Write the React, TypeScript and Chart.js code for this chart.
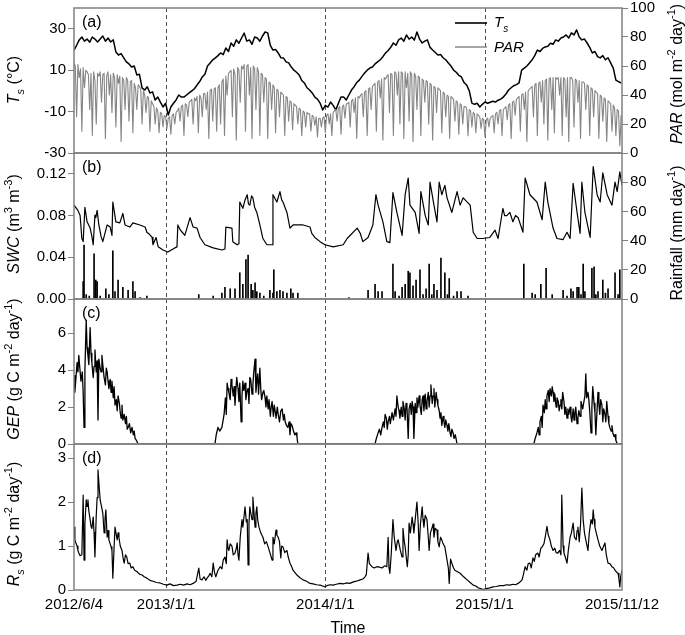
import React, { useEffect, useRef } from 'react';
import { Chart, registerables } from 'chart.js';

Chart.register(...registerables);

// ---------- data ----------
const TS_STEP = 6; // Ts sampled every 6 days from 2012/6/4
const PAR_STEP = 3; // PAR sampled every 3 days from 2012/6/4
const X_MAX = 1256; // days from 2012/6/4 to 2015/11/12
const xTickDays = [0, 211, 576, 941, 1256];
const xTickLabels = ['2012/6/4', '2013/1/1', '2014/1/1', '2015/1/1', '2015/11/12'];
const yearLineDays = [211, 576, 941];

const tsTicks = [-30, -10, 10, 30];
const parTicks = [0, 20, 40, 60, 80, 100];
const swcTicks = [0, 0.04, 0.08, 0.12];
const rainTicks = [0, 20, 40, 60, 80];
const gepTicks = [0, 2, 4, 6];
const rsTicks = [0, 1, 2, 3];

const tsVal = [
  19.7, 22, 24.6, 26, 24, 25, 23.5, 26, 25, 23.6,
  25, 26.5, 24, 25.5, 23.6, 24.6, 18.8, 17.3, 18, 15.9,
  14, 13, 11.5, 12, 7.7, 8, 1.4, 0.4, 2, -1,
  -0.5, -4.4, -3, -5.4, -7.8, -6, -11.7, -7.8, -6, -4.4,
  -2, -3, -3, -2, -1, 0, 1, 2.8, 4.5, 6.7,
  8, 12, 13.5, 15, 15.9, 17, 18.3, 17.5, 20.7, 19,
  23.1, 21.5, 24.6, 23, 25.5, 27.9, 24, 24.6, 22.5, 26,
  25.5, 24, 26.5, 28.4, 28, 22, 19.7, 20, 18.3, 16,
  15.9, 14, 13.5, 11.5, 10, 9, 7.7, 5, 3.8, 1.5,
  0.4, -1, -3, -4, -5.9, -9.2, -7, -7.8, -5.4, -7,
  -9.2, -6, -3, -3, -4.4, -2, 0.4, 2, 4, 5.2,
  7, 8.6, 10, 11, 11.5, 13, 14, 15, 16.5, 18.3,
  19.5, 21, 23.1, 22, 24.6, 25.5, 24, 27, 25, 26,
  24.5, 28.4, 25, 23.1, 24, 24.6, 21, 19.7, 18.5, 17.3,
  17.5, 16, 15, 13.5, 12, 10, 9, 7.5, 6.7, 4,
  2.8, 0, -5.9, -6.5, -6, -7.8, -6.5, -5.4, -6, -5.5,
  -5, -5.4, -4.5, -4, -3, -1.5, 0.4, 1.5, 2.5, 3,
  3.8, 10, 11, 12, 13.5, 15, 17, 19.7, 19, 20.5,
  21.2, 21.5, 23, 22.5, 24.6, 24, 25.5, 26, 27, 25.5,
  28, 27, 29.4, 26, 24.6, 25, 23.1, 21, 18.3, 19,
  16.5, 15.9, 17, 15, 16, 13.5, 11, 5.2, 4.5, 3.8,
];

const parVal = [
  62, 60, 25, 61, 52, 58, 15, 59, 45, 57,
  56, 54, 30, 55, 12, 56, 50, 20, 55, 53,
  56, 35, 54, 55, 10, 53, 56, 40, 54, 28,
  55, 52, 18, 54, 48, 53, 8, 52, 50, 30,
  52, 50, 22, 49, 50, 14, 48, 45, 30, 47,
  46, 44, 20, 43, 40, 28, 39, 38, 15, 36,
  34, 32, 20, 31, 29, 14, 28, 27, 18, 26,
  25, 17, 24, 25, 13, 26, 27, 20, 28, 29,
  31, 22, 32, 33, 12, 34, 33, 25, 35, 36,
  37, 20, 38, 36, 39, 14, 40, 38, 25, 41,
  41, 30, 42, 10, 43, 44, 22, 44, 45, 15,
  45, 47, 20, 49, 51, 12, 53, 40, 55, 56,
  57, 25, 58, 54, 9, 59, 57, 35, 60, 58,
  61, 15, 60, 61, 40, 59, 10, 60, 58, 30,
  59, 56, 12, 55, 54, 35, 52, 51, 10, 49,
  48, 30, 47, 45, 14, 44, 43, 25, 42, 41,
  40, 12, 39, 38, 22, 36, 35, 16, 34, 33,
  32, 20, 31, 30, 12, 29, 28, 18, 28, 27,
  27, 15, 26, 25, 19, 25, 11, 24, 24, 18,
  24, 25, 14, 26, 27, 20, 27, 12, 28, 29,
  30, 22, 31, 32, 13, 32, 33, 24, 34, 34,
  35, 18, 36, 37, 28, 38, 10, 39, 38, 40,
  41, 25, 42, 43, 12, 44, 45, 30, 46, 47,
  48, 15, 49, 50, 38, 51, 9, 52, 51, 53,
  54, 28, 55, 54, 12, 56, 55, 40, 56, 20,
  56, 55, 10, 56, 45, 55, 22, 56, 54, 8,
  55, 53, 30, 53, 52, 12, 51, 50, 35, 50,
  49, 20, 48, 47, 9, 46, 45, 28, 45, 44,
  43, 14, 42, 41, 25, 40, 39, 10, 39, 38,
  37, 22, 36, 35, 13, 34, 33, 20, 32, 32,
  31, 12, 30, 29, 18, 28, 27, 14, 27, 26,
  25, 17, 24, 23, 11, 23, 24, 18, 24, 25,
  26, 14, 27, 28, 20, 29, 30, 12, 30, 31,
  32, 23, 33, 34, 10, 35, 36, 26, 37, 38,
  39, 15, 40, 41, 30, 42, 8, 43, 44, 45,
  46, 25, 47, 48, 12, 48, 49, 35, 50, 20,
  50, 51, 9, 51, 52, 30, 52, 14, 52, 51,
  52, 40, 52, 12, 52, 51, 25, 52, 8, 52,
  52, 50, 18, 51, 50, 35, 50, 10, 49, 49,
  48, 30, 47, 46, 12, 45, 44, 25, 43, 42,
  41, 10, 40, 39, 22, 38, 37, 8, 36, 35,
  34, 15, 33, 31, 12, 30, 29, 5, 26,
];

// [day, SWC]
const swcPoints = [
  [0, 0.09], [9, 0.085], [14, 0.08], [18, 0.058], [21, 0.055], [25, 0.088], [30, 0.074], [37, 0.068],
  [41, 0.06], [44, 0.052], [48, 0.0805], [50, 0.078], [53, 0.085], [57, 0.071], [62, 0.06], [66, 0.055],
  [76, 0.071], [83, 0.069], [87, 0.061], [89, 0.093], [96, 0.074], [105, 0.073], [112, 0.082], [117, 0.071],
  [128, 0.069], [135, 0.073], [151, 0.071], [163, 0.069], [167, 0.064], [173, 0.062], [179, 0.059], [181, 0.052],
  [188, 0.059], [193, 0.05], [204, 0.047], [215, 0.045], [231, 0.049], [236, 0.05], [238, 0.071], [244, 0.066],
  [248, 0.064], [254, 0.061], [266, 0.078], [273, 0.069], [282, 0.068], [289, 0.059], [300, 0.052], [319, 0.049],
  [339, 0.047], [346, 0.048], [348, 0.069], [362, 0.068], [364, 0.055], [374, 0.052], [378, 0.053], [380, 0.093],
  [387, 0.087], [392, 0.095], [397, 0.1], [400, 0.091], [403, 0.09], [407, 0.099], [410, 0.097], [414, 0.088],
  [419, 0.083], [426, 0.071], [433, 0.058], [442, 0.052], [454, 0.052], [456, 0.1], [465, 0.093], [472, 0.103],
  [476, 0.095], [479, 0.093], [488, 0.083], [495, 0.068], [502, 0.071], [525, 0.071], [541, 0.069], [545, 0.063],
  [552, 0.059], [564, 0.055], [575, 0.052], [594, 0.05], [617, 0.052], [626, 0.058], [649, 0.068], [656, 0.063],
  [662, 0.055], [674, 0.059], [685, 0.071], [692, 0.1], [697, 0.09], [708, 0.074], [717, 0.055], [724, 0.054],
  [731, 0.102], [740, 0.083], [752, 0.061], [759, 0.1], [766, 0.116], [770, 0.09], [782, 0.083], [791, 0.063],
  [795, 0.103], [805, 0.08], [812, 0.071], [816, 0.112], [825, 0.09], [832, 0.074], [837, 0.112], [843, 0.1],
  [850, 0.109], [855, 0.097], [866, 0.083], [878, 0.103], [885, 0.09], [892, 0.097], [908, 0.09], [915, 0.064],
  [924, 0.058], [937, 0.058], [953, 0.059], [965, 0.066], [972, 0.058], [983, 0.087], [987, 0.08], [992, 0.08],
  [999, 0.083], [1006, 0.074], [1012, 0.08], [1018, 0.078], [1029, 0.064], [1034, 0.116], [1045, 0.1], [1061, 0.093],
  [1073, 0.076], [1080, 0.112], [1086, 0.093], [1098, 0.068], [1107, 0.058], [1121, 0.057], [1130, 0.064], [1137, 0.058],
  [1144, 0.111], [1153, 0.083], [1160, 0.063], [1164, 0.112], [1171, 0.083], [1183, 0.059], [1190, 0.127], [1199, 0.1],
  [1206, 0.093], [1212, 0.121], [1222, 0.1], [1233, 0.09], [1240, 0.112], [1245, 0.103], [1251, 0.122], [1256, 0.109],
];

// [day, rainfall mm]
const rainPoints = [
  [21, 12], [23, 37], [28, 3], [35, 2], [46, 31], [50, 13], [53, 12], [60, 2], [73, 7], [80, 3], [89, 33], [94, 5],
  [101, 13], [112, 8], [124, 6], [135, 12], [140, 5], [152, 1], [167, 2], [286, 3], [319, 2], [339, 4], [346, 8],
  [358, 7], [369, 7], [380, 18], [387, 10], [394, 27], [399, 30], [406, 10], [410, 6], [415, 11], [419, 5], [426, 4],
  [435, 2], [449, 6], [456, 4], [458, 20], [465, 5], [472, 6], [479, 5], [488, 4], [497, 7], [502, 4], [513, 4],
  [630, 1], [674, 6], [690, 10], [697, 5], [706, 5], [731, 24], [736, 5], [745, 2], [752, 8], [759, 10], [766, 19],
  [770, 18], [777, 9], [784, 13], [793, 20], [800, 3], [807, 7], [814, 24], [820, 3], [825, 10], [832, 6], [841, 28],
  [850, 18], [856, 3], [860, 14], [870, 2], [878, 5], [887, 5], [903, 2], [1031, 24], [1050, 4], [1057, 3], [1070, 10],
  [1082, 21], [1096, 3], [1121, 6], [1130, 2], [1139, 7], [1144, 5], [1153, 8], [1157, 8], [1162, 3], [1167, 24],
  [1171, 5], [1187, 21], [1192, 22], [1196, 3], [1201, 5], [1212, 13], [1218, 4], [1224, 7], [1240, 18], [1247, 3],
  [1251, 20],
];

// [day, GEP]
const gepPoints = [
  [0, 3.7], [2, 2.8], [7, 4.4], [9, 3.9], [11, 4.8], [13, 4.2], [16, 3.4], [19, 3.9], [21, 2.8], [23, 0.9], [25, 4.0],
  [28, 6.7], [30, 5.2], [32, 4.8], [34, 4.3], [37, 6.3], [39, 4.9], [41, 4.4], [44, 3.6], [46, 4.2], [48, 5.1], [51, 3.9],
  [53, 4.5], [55, 1.3], [57, 4.6], [60, 4.1], [62, 3.9], [64, 4.8], [66, 4.3], [69, 3.6], [72, 3.2], [74, 4.1], [76, 3.9],
  [78, 3.4], [80, 3.0], [83, 3.5], [85, 2.8], [87, 3.4], [90, 2.5], [92, 3.1], [94, 2.1], [97, 2.4], [99, 1.8], [101, 2.6],
  [104, 2.2], [106, 1.7], [108, 1.4], [110, 2.1], [112, 1.3], [115, 1.6], [118, 1.1], [120, 1.5], [122, 0.8], [124, 0.9],
  [127, 1.1], [130, 0.6], [133, 0.9], [136, 0.5], [138, 0.7], [140, 0.3], [143, 0.2], [147, 0],
  [323, 0], [326, 0.5], [330, 0.9], [334, 0.7], [339, 0.9], [344, 1.6], [347, 2.5], [349, 1.6], [351, 3.3], [353, 3.0],
  [355, 2.8], [358, 2.4], [360, 3.5], [362, 3.2], [365, 2.6], [367, 3.1], [369, 2.1], [371, 2.9], [373, 3.6], [376, 3.0],
  [378, 2.3], [380, 3.3], [383, 1.2], [385, 2.6], [387, 3.4], [389, 2.9], [392, 3.3], [394, 2.4], [396, 2.8], [399, 3.0],
  [401, 2.2], [403, 3.6], [405, 3.5], [408, 2.7], [410, 3.2], [412, 3.9], [415, 4.6], [417, 2.8], [419, 3.4], [421, 3.8],
  [423, 2.7], [426, 4.1], [428, 3.0], [430, 2.4], [433, 2.8], [435, 2.9], [438, 2.5], [440, 2.0], [442, 2.6], [445, 1.9],
  [447, 2.4], [450, 1.5], [452, 2.0], [454, 2.3], [457, 1.5], [459, 2.1], [461, 1.8], [463, 1.4], [466, 2.0], [468, 1.6],
  [471, 1.2], [474, 1.8], [477, 1.9], [480, 1.3], [482, 1.6], [484, 1.2], [487, 1.0], [490, 0.9], [493, 1.2], [495, 0.5],
  [497, 1.1], [500, 1.0], [503, 0.7], [506, 0.5], [509, 0.6], [511, 0.4], [513, 0],
  [690, 0], [693, 0.3], [697, 0.6], [700, 0.8], [703, 0.5], [706, 0.9], [709, 1.2], [711, 0.9], [713, 1.6], [716, 1.4],
  [718, 0.8], [720, 1.2], [723, 1.5], [725, 1.1], [729, 1.7], [732, 1.3], [736, 1.9], [738, 1.5], [740, 2.6], [743, 2.0],
  [745, 1.8], [747, 1.4], [750, 2.0], [752, 1.5], [754, 2.3], [757, 1.9], [759, 1.3], [761, 2.2], [763, 2.1], [766, 0.3],
  [768, 1.9], [771, 2.2], [773, 1.6], [775, 2.3], [777, 2.0], [779, 0.3], [782, 2.2], [784, 1.7], [786, 2.5], [788, 2.0],
  [791, 2.6], [793, 2.1], [796, 1.6], [798, 2.4], [800, 2.6], [802, 1.8], [805, 2.7], [807, 1.9], [809, 2.3], [812, 2.8],
  [814, 2.0], [816, 2.6], [818, 3.2], [821, 2.2], [823, 2.6], [825, 3.0], [827, 2.0], [830, 2.8], [832, 2.4], [834, 2.1],
  [837, 1.8], [839, 1.4], [841, 1.7], [843, 1.0], [846, 1.5], [848, 1.2], [850, 0.9], [852, 1.3], [855, 1.0], [857, 0.7],
  [859, 1.1], [862, 0.6], [864, 0.4], [866, 0.8], [869, 0.6], [871, 0.3], [874, 0.5], [878, 0],
  [1054, 0], [1057, 0.3], [1061, 0.6], [1064, 0.9], [1066, 0.5], [1068, 1.2], [1071, 1.5], [1073, 0.9], [1075, 2.1],
  [1078, 1.7], [1080, 2.4], [1082, 1.9], [1084, 2.6], [1087, 2.9], [1089, 2.3], [1091, 3.0], [1094, 2.6], [1096, 3.1],
  [1098, 2.8], [1100, 2.3], [1102, 2.7], [1105, 2.0], [1107, 2.5], [1110, 2.3], [1112, 1.8], [1114, 2.1], [1116, 2.4],
  [1118, 1.9], [1120, 2.8], [1123, 2.3], [1125, 1.6], [1127, 2.0], [1130, 1.4], [1132, 1.9], [1134, 1.6], [1137, 2.0],
  [1139, 1.5], [1141, 1.2], [1144, 1.9], [1146, 1.3], [1148, 1.7], [1150, 2.0], [1153, 1.1], [1155, 1.4], [1157, 1.8],
  [1160, 1.5], [1162, 2.3], [1164, 2.1], [1166, 1.9], [1168, 2.2], [1171, 2.6], [1173, 3.8], [1175, 2.5], [1178, 2.8],
  [1180, 2.4], [1182, 1.8], [1185, 0.6], [1187, 2.0], [1189, 3.1], [1192, 2.2], [1194, 1.7], [1196, 0.5], [1199, 1.9],
  [1201, 2.8], [1203, 2.2], [1205, 1.6], [1207, 2.4], [1210, 2.1], [1212, 1.2], [1214, 1.9], [1217, 1.6], [1219, 1.2],
  [1221, 2.3], [1224, 1.5], [1226, 1.1], [1228, 0.9], [1231, 0.7], [1233, 1.0], [1235, 0.6], [1238, 0.4], [1240, 0.5],
  [1242, 0.2], [1245, 0], [1256, 0],
];

// [day, Rs]
const rsPoints = [
  [0, 1.43], [2, 1.14], [5, 1.05], [7, 1.0], [9, 0.9], [11, 0.84], [14, 0.78], [18, 0.8], [21, 2.16], [23, 0.68],
  [25, 1.5], [28, 2.05], [30, 1.9], [32, 2.05], [34, 1.8], [37, 1.6], [39, 1.45], [41, 1.4], [44, 1.66], [46, 1.3],
  [48, 0.75], [51, 1.7], [53, 2.1], [55, 2.73], [58, 2.3], [60, 2.05], [63, 1.9], [66, 1.75], [69, 1.3], [71, 1.6],
  [73, 1.82], [76, 1.2], [78, 1.35], [80, 1.14], [83, 1.05], [85, 0.98], [87, 0.9], [89, 0.27], [92, 1.0], [94, 1.43],
  [97, 1.25], [99, 1.14], [101, 1.3], [103, 1.2], [106, 1.0], [110, 0.9], [113, 0.7], [115, 0.61], [118, 0.8], [121, 0.75],
  [124, 0.6], [128, 0.61], [131, 0.5], [135, 0.53], [139, 0.45], [144, 0.42], [150, 0.36], [156, 0.34], [161, 0.3],
  [167, 0.27], [174, 0.22], [181, 0.2], [189, 0.17], [197, 0.16], [205, 0.13], [213, 0.11], [220, 0.14], [228, 0.1],
  [236, 0.11], [244, 0.13], [251, 0.11], [259, 0.14], [266, 0.12], [273, 0.15], [280, 0.2], [286, 0.5], [289, 0.25],
  [293, 0.23], [298, 0.3], [302, 0.22], [305, 0.27], [309, 0.32], [312, 0.38], [316, 0.3], [319, 0.61], [322, 0.4],
  [325, 0.3], [330, 0.45], [335, 0.53], [339, 0.48], [342, 0.68], [346, 0.75], [349, 0.6], [351, 1.14], [353, 0.95],
  [355, 0.9], [358, 1.05], [362, 1.0], [365, 0.8], [369, 0.84], [372, 0.95], [374, 1.07], [376, 0.8], [378, 0.68],
  [381, 1.2], [385, 1.6], [387, 1.43], [390, 1.7], [392, 1.89], [395, 1.55], [397, 1.6], [399, 0.57], [401, 1.5],
  [403, 1.89], [406, 1.7], [408, 1.6], [410, 2.11], [413, 1.7], [415, 1.43], [417, 1.75], [419, 1.89], [421, 1.6],
  [424, 1.43], [428, 1.3], [433, 1.2], [437, 1.05], [441, 1.1], [445, 0.98], [449, 0.85], [452, 0.75], [454, 0.68],
  [456, 1.2], [459, 1.05], [463, 1.36], [465, 1.25], [468, 1.2], [471, 1.1], [474, 0.73], [476, 1.0], [479, 0.98],
  [483, 0.85], [488, 0.9], [491, 0.75], [495, 0.61], [498, 0.55], [502, 0.45], [506, 0.4], [511, 0.34], [518, 0.28],
  [525, 0.23], [533, 0.2], [541, 0.15], [548, 0.14], [556, 0.12], [564, 0.11], [570, 0.09], [575, 0.07], [580, 0.1],
  [587, 0.12], [594, 0.11], [601, 0.13], [610, 0.15], [617, 0.14], [624, 0.16], [632, 0.15], [639, 0.18], [647, 0.2],
  [656, 0.23], [662, 0.25], [667, 0.3], [670, 0.35], [674, 0.84], [677, 0.6], [683, 0.53], [688, 0.5], [694, 0.53],
  [700, 0.52], [706, 0.5], [712, 0.55], [717, 0.53], [720, 1.2], [722, 0.5], [724, 0.38], [727, 0.8], [731, 1.6],
  [734, 1.2], [738, 0.9], [741, 1.1], [743, 1.14], [748, 0.9], [752, 0.75], [754, 1.4], [757, 1.1], [759, 0.98],
  [762, 0.7], [764, 0.53], [766, 0.8], [768, 1.52], [771, 1.3], [775, 1.66], [777, 1.5], [779, 1.3], [782, 1.6],
  [786, 2.0], [789, 1.5], [791, 0.9], [794, 1.5], [798, 1.89], [800, 1.6], [802, 1.43], [805, 1.7], [809, 1.6],
  [812, 1.2], [814, 0.9], [817, 1.3], [821, 1.43], [823, 1.5], [825, 1.2], [828, 1.4], [832, 1.36], [834, 1.1],
  [837, 0.98], [840, 1.2], [843, 1.14], [846, 1.05], [850, 0.98], [853, 0.8], [855, 0.68], [858, 0.5], [860, 0.15],
  [863, 0.7], [866, 0.61], [870, 0.5], [873, 0.45], [878, 0.42], [885, 0.38], [893, 0.3], [901, 0.23], [908, 0.17],
  [915, 0.11], [921, 0.09], [926, 0.05], [932, 0.03], [937, 0.01], [945, 0.03], [953, 0.05], [960, 0.07], [968, 0.08],
  [976, 0.1], [984, 0.1], [992, 0.12], [999, 0.11], [1006, 0.13], [1012, 0.12], [1018, 0.15], [1022, 0.18],
  [1027, 0.23], [1030, 0.35], [1034, 0.53], [1038, 0.45], [1041, 0.6], [1045, 0.61], [1048, 0.5], [1052, 0.73],
  [1055, 0.65], [1058, 0.8], [1063, 0.84], [1066, 0.75], [1070, 0.95], [1073, 0.98], [1077, 1.05], [1080, 1.2],
  [1084, 1.45], [1087, 1.25], [1091, 1.14], [1094, 1.0], [1098, 0.9], [1102, 0.95], [1105, 0.85], [1109, 0.84],
  [1113, 0.9], [1116, 0.8], [1118, 2.16], [1121, 1.0], [1123, 0.84], [1126, 0.75], [1130, 0.61], [1133, 0.9],
  [1137, 1.2], [1140, 1.3], [1144, 1.52], [1147, 1.2], [1151, 1.14], [1153, 1.35], [1155, 1.43], [1158, 1.1],
  [1161, 1.5], [1164, 2.32], [1167, 1.6], [1170, 1.3], [1173, 1.14], [1176, 1.0], [1178, 0.9], [1181, 1.3],
  [1185, 1.6], [1188, 1.5], [1190, 1.82], [1192, 1.6], [1194, 1.43], [1197, 1.3], [1201, 1.14], [1205, 1.0],
  [1210, 0.9], [1214, 1.0], [1217, 1.07], [1220, 0.8], [1224, 0.61], [1228, 0.6], [1233, 0.53], [1237, 0.5],
  [1240, 0.45], [1244, 0.4], [1247, 0.38], [1249, 0.25], [1251, 0.07], [1253, 0.3], [1256, 0.45],
];

// ---------- drawing helpers ----------
const FONT = '"Liberation Sans", Arial, Helvetica, sans-serif';
const FRAME = '#808080';
Chart.defaults.font.family = FONT;
Chart.defaults.color = '#000';

type Part = { t: string; i?: boolean; sup?: boolean; sub?: boolean };

function partFont(p: Part, size: number) {
  const s = p.sup || p.sub ? Math.round(size * 0.66) : size;
  return `${p.i ? 'italic ' : ''}${s}px ${FONT}`;
}

function drawRich(ctx: CanvasRenderingContext2D, parts: Part[], x: number, y: number, size: number, rot: number, align: 'center' | 'left') {
  ctx.save();
  ctx.translate(x, y);
  ctx.rotate(rot);
  const widths = parts.map((p) => {
    ctx.font = partFont(p, size);
    return ctx.measureText(p.t).width;
  });
  const total = widths.reduce((a, b) => a + b, 0);
  let cx = align === 'center' ? -total / 2 : 0;
  ctx.textBaseline = 'alphabetic';
  ctx.textAlign = 'left';
  ctx.fillStyle = '#000';
  const base = size * 0.36;
  parts.forEach((p, k) => {
    ctx.font = partFont(p, size);
    const dy = p.sup ? -size * 0.42 : p.sub ? size * 0.3 : 0;
    ctx.fillText(p.t, cx, base + dy);
    cx += widths[k];
  });
  ctx.restore();
}

const uniform = (vals: number[], step: number) => vals.map((v, i) => ({ x: i * step, y: v }));
const pairs = (pts: number[][]) => pts.map(([x, y]) => ({ x, y }));

type Axis = { min: number; max: number; ticks: number[]; fmt?: (v: number) => string };
type Spec = {
  top: number; bottom: number; canvasTop: number; canvasH: number;
  datasets: any[]; left: Axis; right?: Axis; showX: boolean; tag: string;
  leftTitle: Part[]; leftTitleY: number; rightTitle?: Part[]; rightTitleY?: number; legend?: boolean;
};

function yAxis(s: Axis, position: 'left' | 'right') {
  return {
    type: 'linear', position, min: s.min, max: s.max,
    afterBuildTicks: (sc: any) => { sc.ticks = s.ticks.map((v) => ({ value: v })); },
    afterFit: (sc: any) => { sc.width = position === 'left' ? 74 : 63; sc.paddingTop = 0; sc.paddingBottom = 0; },
    grid: { drawOnChartArea: false, drawTicks: true, tickLength: 6, color: FRAME, lineWidth: 1 },
    border: { display: false },
    ticks: { padding: 2, color: '#000', font: { size: 15 }, autoSkip: false, callback: (v: number) => (s.fmt ? s.fmt(v) : String(v)) },
  };
}

function buildChart(canvas: HTMLCanvasElement, p: Spec) {
  const padTop = p.top - p.canvasTop;
  const padBottom = p.showX ? 0 : p.canvasTop + p.canvasH - p.bottom;
  const scales: any = {
    x: {
      type: 'linear', min: 0, max: X_MAX, display: p.showX, offset: false,
      afterBuildTicks: (sc: any) => { sc.ticks = xTickDays.map((v) => ({ value: v })); },
      afterFit: (sc: any) => { if (p.showX) sc.height = 635 - p.bottom; sc.paddingLeft = 0; sc.paddingRight = 0; },
      grid: { display: false, drawTicks: false },
      border: { display: false },
      ticks: {
        autoSkip: false, maxRotation: 0, minRotation: 0, padding: 6, color: '#000', font: { size: 15 },
        callback: (v: number) => { const i = xTickDays.indexOf(v); return i >= 0 ? xTickLabels[i] : ''; },
      },
    },
    y: yAxis(p.left, 'left'),
  };
  if (p.right) scales.y2 = yAxis(p.right, 'right');

  const deco = {
    id: 'deco',
    beforeDatasetsDraw(chart: any) {
      const { ctx, chartArea: a, scales: sc } = chart;
      ctx.save();
      ctx.strokeStyle = '#505050';
      ctx.lineWidth = 1;
      ctx.setLineDash([4, 3]);
      yearLineDays.forEach((d) => {
        const px = Math.round(sc.x.getPixelForValue(d)) + 0.5;
        ctx.beginPath();
        ctx.moveTo(px, a.top);
        ctx.lineTo(px, a.bottom);
        ctx.stroke();
      });
      ctx.restore();
    },
    afterDraw(chart: any) {
      const { ctx, chartArea: a } = chart;
      ctx.save();
      ctx.strokeStyle = FRAME;
      ctx.lineWidth = 1.5;
      ctx.strokeRect(a.left, a.top, a.right - a.left, a.bottom - a.top);
      ctx.restore();
      ctx.save();
      ctx.font = `16px ${FONT}`;
      ctx.fillStyle = '#000';
      ctx.textBaseline = 'middle';
      ctx.textAlign = 'left';
      ctx.fillText(p.tag, a.left + 8, a.top + 15);
      ctx.restore();
      const off = p.canvasTop;
      drawRich(ctx, p.leftTitle, 13, p.leftTitleY - off, 16, -Math.PI / 2, 'center');
      if (p.rightTitle && p.rightTitleY != null) drawRich(ctx, p.rightTitle, 676, p.rightTitleY - off, 16, -Math.PI / 2, 'center');
      if (p.legend) {
        ctx.save();
        ctx.lineWidth = 1.6;
        ctx.strokeStyle = '#000';
        ctx.beginPath(); ctx.moveTo(455, 23 - off); ctx.lineTo(487, 23 - off); ctx.stroke();
        ctx.strokeStyle = '#808080';
        ctx.lineWidth = 1.4;
        ctx.beginPath(); ctx.moveTo(455, 47 - off); ctx.lineTo(487, 47 - off); ctx.stroke();
        ctx.restore();
        drawRich(ctx, [{ t: 'T', i: true }, { t: 's', i: true, sub: true }], 494, 22 - off, 15, 0, 'left');
        drawRich(ctx, [{ t: 'PAR', i: true }], 494, 47 - off, 15, 0, 'left');
      }
      if (p.showX) {
        ctx.save();
        ctx.font = `16px ${FONT}`;
        ctx.fillStyle = '#000';
        ctx.textAlign = 'center';
        ctx.textBaseline = 'alphabetic';
        ctx.fillText('Time', 348, 633 - off);
        ctx.restore();
      }
    },
  };

  return new Chart(canvas, {
    type: 'line',
    data: { datasets: p.datasets },
    options: {
      responsive: false,
      animation: false,
      events: [],
      layout: { padding: { left: 0, right: p.right ? 0 : 63, top: padTop, bottom: padBottom } },
      plugins: { legend: { display: false }, tooltip: { enabled: false } },
      elements: { point: { radius: 0 }, line: { tension: 0 } },
      scales,
    } as any,
    plugins: [deco],
  });
}

const lineDs = (data: any[], color: string, width: number, axis = 'y') => ({
  type: 'line', data, borderColor: color, borderWidth: width, pointRadius: 0, fill: false, yAxisID: axis, borderJoinStyle: 'round',
});

function makeSpecs(): Spec[] {
  return [
    {
      top: 8, bottom: 153, canvasTop: 0, canvasH: 165, showX: false, tag: '(a)', legend: true,
      datasets: [lineDs(uniform(parVal, PAR_STEP), '#858585', 1.1, 'y2'), lineDs(uniform(tsVal, TS_STEP), '#000', 1.5, 'y')],
      left: { min: -30, max: 40, ticks: tsTicks },
      right: { min: 0, max: 100, ticks: parTicks },
      leftTitle: [{ t: 'T', i: true }, { t: 's', i: true, sub: true }, { t: ' (°C)' }], leftTitleY: 80,
      rightTitle: [{ t: 'PAR', i: true }, { t: ' (mol m' }, { t: '-2', sup: true }, { t: ' day' }, { t: '-1', sup: true }, { t: ')' }],
      rightTitleY: 74,
    },
    {
      top: 153, bottom: 299, canvasTop: 141, canvasH: 170, showX: false, tag: '(b)',
      datasets: [
        { type: 'bar', data: pairs(rainPoints), backgroundColor: '#000', borderWidth: 0, barThickness: 1, yAxisID: 'y2' },
        lineDs(pairs(swcPoints), '#000', 1.2, 'y'),
      ],
      left: { min: 0, max: 0.14, ticks: swcTicks, fmt: (v) => v.toFixed(2) },
      right: { min: 0, max: 100, ticks: rainTicks },
      leftTitle: [{ t: 'SWC', i: true }, { t: ' (m' }, { t: '3', sup: true }, { t: ' m' }, { t: '-3', sup: true }, { t: ')' }], leftTitleY: 224,
      rightTitle: [{ t: 'Rainfall (mm day' }, { t: '-1', sup: true }, { t: ')' }], rightTitleY: 233,
    },
    {
      top: 299, bottom: 444, canvasTop: 287, canvasH: 169, showX: false, tag: '(c)',
      datasets: [lineDs(pairs(gepPoints), '#000', 1.3, 'y')],
      left: { min: 0, max: 7.85, ticks: gepTicks },
      leftTitle: [{ t: 'GEP', i: true }, { t: ' (g C m' }, { t: '-2', sup: true }, { t: ' day' }, { t: '-1', sup: true }, { t: ')' }], leftTitleY: 369,
    },
    {
      top: 444, bottom: 590, canvasTop: 432, canvasH: 203, showX: true, tag: '(d)',
      datasets: [lineDs(pairs(rsPoints), '#000', 1.2, 'y')],
      left: { min: 0, max: 3.32, ticks: rsTicks },
      leftTitle: [{ t: 'R', i: true }, { t: 's', i: true, sub: true }, { t: ' (g C m' }, { t: '-2', sup: true }, { t: ' day' }, { t: '-1', sup: true }, { t: ')' }], leftTitleY: 524,
    },
  ];
}

const CANVAS_LAYOUT = [
  { top: 0, h: 165 },
  { top: 141, h: 170 },
  { top: 287, h: 169 },
  { top: 432, h: 203 },
];

export default function App() {
  const r0 = useRef<HTMLCanvasElement>(null);
  const r1 = useRef<HTMLCanvasElement>(null);
  const r2 = useRef<HTMLCanvasElement>(null);
  const r3 = useRef<HTMLCanvasElement>(null);
  const refs = [r0, r1, r2, r3];

  useEffect(() => {
    const specs = makeSpecs();
    const charts = specs.map((s, i) => buildChart(refs[i].current as HTMLCanvasElement, s));
    return () => charts.forEach((c) => c.destroy());
  }, []);

  return (
    <div style={{ position: 'absolute', left: 0, top: 0, width: 685, height: 635, background: '#fff', overflow: 'hidden' }}>
      {CANVAS_LAYOUT.map((c, i) => (
        <canvas
          key={i}
          ref={refs[i]}
          width={685}
          height={c.h}
          style={{ position: 'absolute', left: 0, top: c.top, width: 685, height: c.h }}
        />
      ))}
    </div>
  );
}
